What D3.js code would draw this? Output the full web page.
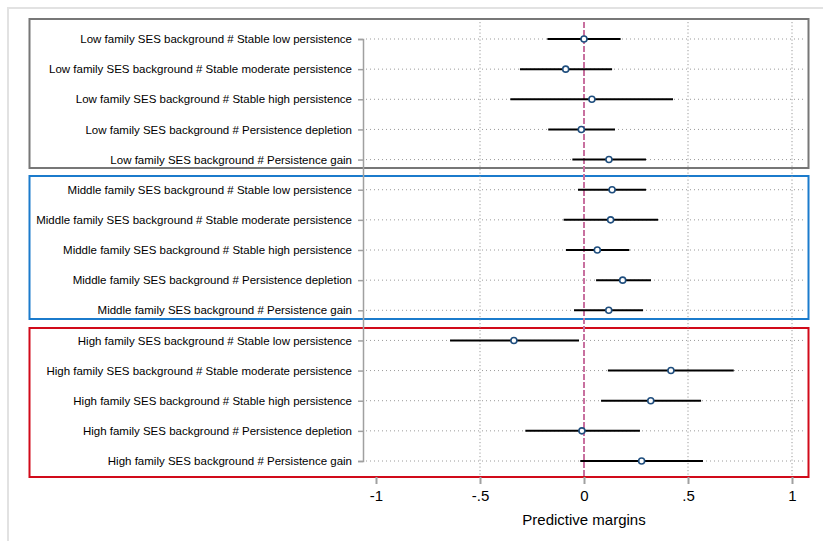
<!DOCTYPE html>
<html>
<head>
<meta charset="utf-8">
<script src="https://cdn.jsdelivr.net/npm/d3@7"></script>
<style>
  body { margin: 0; background: #fff; }
  text { font-family: "Liberation Sans", Arial, sans-serif; fill: #000; }
</style>
</head>
<body>
<div class="chart"></div>
<script>
var width = 823
  , height = 541
  ;

// data
var groups = ["Low", "Middle", "High"];
var profiles = ["Stable low persistence", "Stable moderate persistence",
  "Stable high persistence", "Persistence depletion", "Persistence gain"];
var margins = [0.000, -0.088, 0.038, -0.013, 0.120,
               0.135, 0.128, 0.064, 0.186, 0.119,
               -0.337, 0.418, 0.321, -0.010, 0.277];
var lower = [-0.176, -0.308, -0.354, -0.172, -0.056,
             -0.029, -0.098, -0.087, 0.058, -0.048,
             -0.644, 0.115, 0.082, -0.282, -0.018];
var upper = [0.176, 0.135, 0.428, 0.149, 0.298,
             0.298, 0.356, 0.218, 0.322, 0.284,
             -0.024, 0.720, 0.563, 0.269, 0.572];
var xTicks = [-1, -0.5, 0, 0.5, 1];
var xTickLabels = ["-1", "-.5", "0", ".5", "1"];
var gridTicks = [-0.5, 0.5, 1];

var labels = [];
groups.forEach(function(g) {
  profiles.forEach(function(p) {
    labels.push(g + " family SES background # " + p);
  });
});

var rows = labels.map(function(l, i) {
  return { label: l, m: margins[i], lo: lower[i], hi: upper[i] };
});

var svg = d3.select(".chart").append("svg")
  .attr("width", width)
  .attr("height", height);

// outer panel edge
svg.append("path")
  .attr("d", "M8," + height + "V8H" + width)
  .attr("fill", "none")
  .attr("stroke", "#e2e2e2")
  .attr("stroke-width", 2);

var x = d3.scaleLinear().domain([-1, 1]).range([376, 792]);
var y = d3.scalePoint().domain(labels).range([39, 461]);
var plotTop = 22, plotBottom = 477;

// group boxes
var boxes = [
    { top: 19, bottom: 168, color: "#777777" }
  , { top: 176, bottom: 319, color: "#1b7bcc" }
  , { top: 328, bottom: 477, color: "#d10a1a" }
];
svg.selectAll("rect.box")
  .data(boxes)
  .enter().append("rect")
    .attr("class", "box")
    .attr("x", 29.5)
    .attr("y", function(d) { return d.top; })
    .attr("width", 779)
    .attr("height", function(d) { return d.bottom - d.top; })
    .attr("fill", "none")
    .attr("stroke", function(d) { return d.color; })
    .attr("stroke-width", 2);

// horizontal dotted gridlines
svg.selectAll("line.hgrid")
  .data(labels)
  .enter().append("line")
    .attr("x1", 366).attr("x2", 806)
    .attr("y1", function(d) { return y(d); })
    .attr("y2", function(d) { return y(d); })
    .attr("stroke", "#9a9a9a")
    .attr("stroke-dasharray", "1,3");

// vertical dotted gridlines
svg.selectAll("line.vgrid")
  .data(gridTicks)
  .enter().append("line")
    .attr("x1", function(d) { return x(d); })
    .attr("x2", function(d) { return x(d); })
    .attr("y1", plotTop).attr("y2", plotBottom - 2)
    .attr("stroke", "#9a9a9a")
    .attr("stroke-dasharray", "1.2,2.3");

// reference line at zero
svg.append("line")
  .attr("x1", x(0)).attr("x2", x(0))
  .attr("y1", plotTop).attr("y2", plotBottom)
  .attr("stroke", "#c8709f")
  .attr("stroke-width", 2)
  .attr("stroke-dasharray", "6,2");

// y axis
var yAxis = svg.append("g")
  .attr("transform", "translate(363,0)")
  .call(d3.axisLeft(y).tickSize(5).tickPadding(6));
yAxis.select(".domain").attr("stroke", "#a0a0a0").attr("stroke-width", 1.5);
yAxis.selectAll(".tick line").attr("stroke", "#a0a0a0").attr("stroke-width", 1.5);
yAxis.selectAll(".tick text")
  .style("font-family", "'Liberation Sans', Arial, sans-serif")
  .style("font-size", "11.5px")
  .attr("fill", "#000");

// x axis
var xAxis = svg.append("g")
  .attr("transform", "translate(0," + plotBottom + ")")
  .call(d3.axisBottom(x).tickValues(xTicks).tickSize(7).tickPadding(6)
    .tickFormat(function(d, i) { return xTickLabels[i]; }));
xAxis.select(".domain").remove();
xAxis.selectAll(".tick line").attr("stroke", "#a0a0a0").attr("stroke-width", 2);
xAxis.selectAll(".tick text")
  .style("font-family", "'Liberation Sans', Arial, sans-serif")
  .style("font-size", "15px")
  .attr("fill", "#000");

svg.append("text")
  .attr("x", x(0))
  .attr("y", 524.5)
  .attr("text-anchor", "middle")
  .style("font-size", "15px")
  .text("Predictive margins");

// confidence intervals
svg.selectAll("line.ci")
  .data(rows)
  .enter().append("line")
    .attr("x1", function(d) { return x(d.lo); })
    .attr("x2", function(d) { return x(d.hi); })
    .attr("y1", function(d) { return y(d.label); })
    .attr("y2", function(d) { return y(d.label); })
    .attr("stroke", "#000")
    .attr("stroke-width", 2);

// point estimates
svg.selectAll("circle.pt")
  .data(rows)
  .enter().append("circle")
    .attr("cx", function(d) { return x(d.m); })
    .attr("cy", function(d) { return y(d.label); })
    .attr("r", 3)
    .attr("fill", "#fff")
    .attr("stroke", "#1f4e7e")
    .attr("stroke-width", 1.6);
</script>
</body>
</html>
